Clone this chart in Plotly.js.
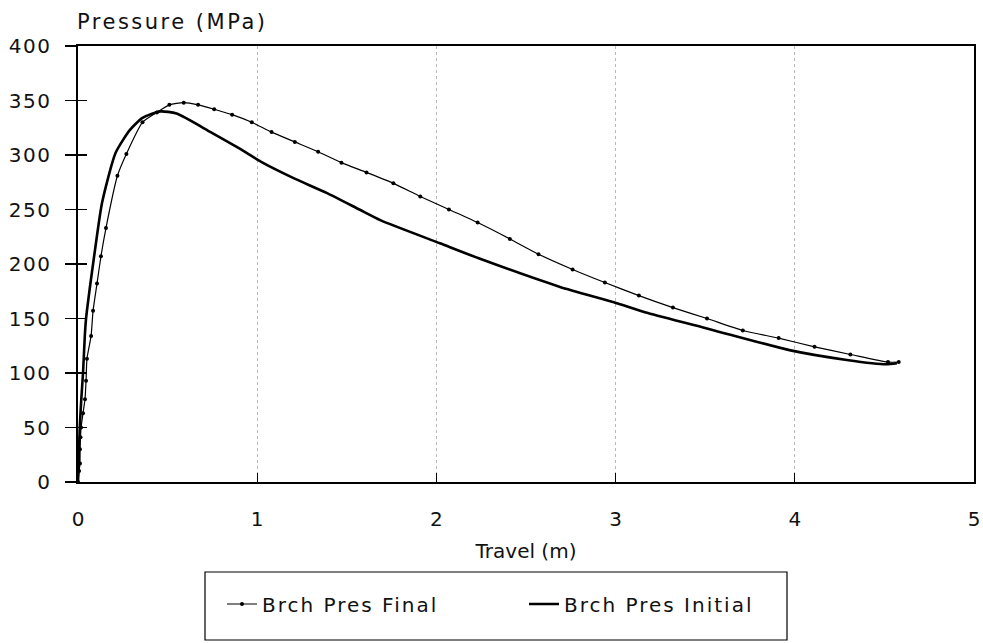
<!DOCTYPE html>
<html>
<head>
<meta charset="utf-8">
<script src="https://cdn.plot.ly/plotly-3.0.1.min.js"></script>
<style>
  html, body { margin: 0; padding: 0; background: #fff; }
  #chart { width: 983px; height: 643px; }
  .gtitle { letter-spacing: 2.5px; }
  .legendtext { letter-spacing: 2px; }
  .ytick text { letter-spacing: 1.5px; }
</style>
</head>
<body>
<div id="chart"></div>
<script>
// Brch Pres Final (thin line with markers)
const finalTravel = [0, 0.006, 0.011, 0.011, 0.014, 0.017, 0.028, 0.039, 0.045, 0.05, 0.073, 0.084, 0.106, 0.128, 0.156, 0.22, 0.27, 0.36, 0.44, 0.51, 0.59, 0.67, 0.76, 0.86, 0.97, 1.08, 1.21, 1.34, 1.47, 1.61, 1.76, 1.91, 2.07, 2.23, 2.41, 2.57, 2.76, 2.94, 3.13, 3.32, 3.51, 3.71, 3.91, 4.11, 4.31, 4.52, 4.58];
const finalPressure = [0, 10, 17, 30, 41, 50, 63, 76, 93, 113, 134, 157, 182, 207, 233, 281, 301, 330, 339, 346, 348, 346, 342, 337, 330, 321, 312, 303, 293, 284, 274, 262, 250, 238, 223, 209, 195, 183, 171, 160, 150, 139, 132, 124, 117, 110, 110];

// Brch Pres Initial (thick line)
const initialTravel = [0, 0.005, 0.01, 0.018, 0.028, 0.038, 0.045, 0.07, 0.095, 0.134, 0.21, 0.29, 0.36, 0.46, 0.55, 0.74, 0.9, 1.03, 1.2, 1.39, 1.57, 1.69, 2.02, 2.24, 2.69, 2.99, 3.18, 3.53, 3.97, 4.29, 4.51, 4.57];
const initialPressure = [0, 25, 50, 75, 100, 134, 150, 183, 213, 256, 302, 323, 334, 340, 338, 321, 306, 293, 279, 265, 250, 240, 219, 205, 179, 165, 155, 140, 121, 112, 108, 109];

const xTickVals = [0, 1, 2, 3, 4, 5];
const xTickText = ['0', '1', '2', '3', '4', '5'];
const yTickVals = [0, 50, 100, 150, 200, 250, 300, 350, 400];
const yTickText = ['0', '50', '100', '150', '200', '250', '300', '350', '400'];

const FONT = 'DejaVu Sans, sans-serif';

const traces = [
  {
    x: finalTravel, y: finalPressure,
    name: 'Brch Pres Final',
    mode: 'lines+markers',
    line: { color: '#000', width: 1.2, shape: 'spline', smoothing: 0.6 },
    marker: { color: '#000', size: 4, symbol: 'circle' },
    hoverinfo: 'x+y'
  },
  {
    // drawn on the overlaid axis (same range) that carries the inner half of the cross ticks
    x: initialTravel, y: initialPressure,
    yaxis: 'y2',
    name: 'Brch Pres Initial',
    mode: 'lines',
    line: { color: '#000', width: 2.6, shape: 'spline', smoothing: 0.6 },
    hoverinfo: 'x+y'
  }
];

const layout = {
  width: 983, height: 643,
  margin: { l: 78, r: 9, t: 46, b: 161, pad: 0 },
  paper_bgcolor: '#fff', plot_bgcolor: '#fff',
  font: { family: FONT, color: '#111', size: 20 },
  showlegend: true,
  title: {
    text: 'Pressure (MPa)',
    font: { family: FONT, size: 21, color: '#111' },
    x: 77 / 983, xref: 'container', xanchor: 'left',
    y: 1 - 22 / 643, yref: 'container', yanchor: 'middle'
  },
  xaxis: {
    range: [0, 5],
    tickmode: 'array', tickvals: xTickVals, ticktext: xTickText,
    ticks: 'inside', ticklen: 9, tickwidth: 1.2, tickcolor: '#000',
    ticklabelstandoff: 18,
    showline: true, linecolor: '#000', linewidth: 1.6, mirror: true,
    showgrid: true, gridcolor: '#b8b8b8', gridwidth: 1, griddash: 'dot',
    zeroline: false,
    tickfont: { family: FONT, size: 20, color: '#111' },
    title: { text: 'Travel (m)', font: { family: FONT, size: 20, color: '#111' }, standoff: 14 }
  },
  yaxis: {
    range: [0, 400],
    tickmode: 'array', tickvals: yTickVals, ticktext: yTickText,
    ticks: 'outside', ticklen: 11, tickwidth: 1.2, tickcolor: '#000',
    ticklabelstandoff: 10,
    showline: true, linecolor: '#000', linewidth: 1.6, mirror: true,
    showgrid: false, zeroline: false,
    tickfont: { family: FONT, size: 20, color: '#111' }
  },
  yaxis2: {
    overlaying: 'y', side: 'left', anchor: 'x',
    range: [0, 400],
    tickmode: 'array', tickvals: yTickVals,
    ticks: 'inside', ticklen: 9, tickwidth: 1.2, tickcolor: '#000',
    showticklabels: false, showline: false, showgrid: false, zeroline: false
  },
  legend: {
    orientation: 'h',
    x: (222 - 78) / 896, xanchor: 'left',
    y: (482 - 604) / 436, yanchor: 'middle',
    bgcolor: 'rgba(0,0,0,0)', borderwidth: 0,
    entrywidth: 257, entrywidthmode: 'pixels',
    font: { family: FONT, size: 20, color: '#111' }
  },
  shapes: [
    {
      type: 'rect', xref: 'paper', yref: 'paper',
      x0: (205 - 78) / 896, x1: (787 - 78) / 896,
      y0: (482 - 572) / 436, y1: (482 - 640) / 436,
      line: { color: '#000', width: 1.2 }, fillcolor: 'rgba(0,0,0,0)'
    }
  ]
};

Plotly.newPlot('chart', traces, layout, { displayModeBar: false, staticPlot: true });
</script>
</body>
</html>
